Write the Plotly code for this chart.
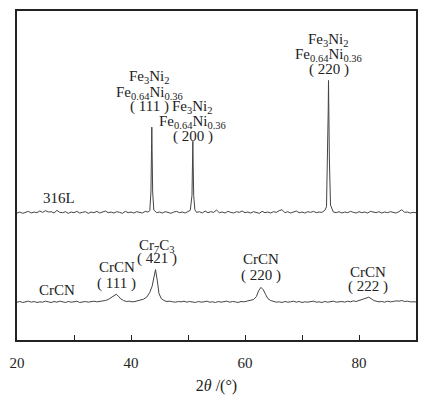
import plotly.graph_objects as go

# ----------------------------
# Data
# ----------------------------

two_theta_316l = [
    20.0, 20.5, 21.0, 21.5, 22.0, 22.5, 23.0, 23.5, 24.0, 24.5,
    25.0, 25.5, 26.0, 26.5, 27.0, 27.5, 28.0, 28.5, 29.0, 29.5,
    30.0, 30.5, 31.0, 31.5, 32.0, 32.5, 33.0, 33.5, 34.0, 34.5,
    35.0, 35.5, 36.0, 36.5, 37.0, 37.5, 38.0, 38.5, 39.0, 39.5,
    40.0, 40.5, 41.0, 41.5, 42.0, 42.5, 43.0, 43.3, 43.5, 43.6,
    43.65, 43.7, 43.8, 44.0, 44.5, 45.0, 45.5, 46.0, 46.5, 47.0,
    47.5, 48.0, 48.5, 49.0, 49.5, 50.0, 50.4, 50.7, 50.8, 50.85,
    50.9, 51.0, 51.2, 51.5, 52.0, 52.5, 53.0, 53.5, 54.0, 54.5,
    55.0, 55.5, 56.0, 56.5, 57.0, 57.5, 58.0, 58.5, 59.0, 59.5,
    60.0, 60.5, 61.0, 61.5, 62.0, 62.5, 63.0, 63.5, 64.0, 64.5,
    65.0, 65.5, 66.0, 66.5, 67.0, 67.5, 68.0, 68.5, 69.0, 69.5,
    70.0, 70.5, 71.0, 71.5, 72.0, 72.5, 73.0, 73.5, 74.0, 74.3,
    74.5, 74.6, 74.65, 74.7, 74.8, 75.0, 75.3, 75.5, 76.0, 76.5,
    77.0, 77.5, 78.0, 78.5, 79.0, 79.5, 80.0, 80.5, 81.0, 81.5,
    82.0, 82.5, 83.0, 83.5, 84.0, 84.5, 85.0, 85.5, 86.0, 86.5,
    87.0, 87.5, 88.0, 88.5, 89.0, 89.5, 90.0,
]
intensity_316l = [
    38.6, 38.9, 38.5, 38.8, 39.1, 38.6, 38.9, 38.7, 39.2, 38.8,
    39.3, 38.9, 39.0, 38.6, 39.4, 38.8, 38.7, 39.0, 38.5, 38.9,
    38.7, 39.1, 38.6, 38.8, 39.0, 38.5, 38.9, 38.7, 39.1, 38.6,
    38.8, 39.2, 38.7, 38.9, 38.6, 39.0, 38.8, 38.5, 39.1, 38.7,
    38.9, 38.6, 39.0, 38.8, 38.6, 39.1, 38.9, 39.3, 45.0, 58.0,
    64.7, 58.0, 45.0, 39.5, 38.7, 38.9, 38.6, 39.0, 38.8, 38.5,
    38.9, 39.1, 38.7, 38.9, 38.6, 39.0, 39.4, 44.0, 54.0, 60.4,
    54.0, 44.0, 39.6, 38.8, 39.0, 38.6, 39.2, 38.7, 39.0, 38.8,
    39.5, 38.7, 38.9, 38.6, 39.1, 38.8, 38.6, 39.0, 38.8, 39.2,
    38.7, 38.9, 38.6, 39.0, 38.8, 38.5, 39.1, 38.7, 38.9, 38.6,
    39.0, 38.8, 39.3, 39.6, 38.7, 39.0, 38.6, 38.9, 39.2, 38.7,
    38.9, 38.6, 39.0, 38.8, 39.1, 38.7, 38.9, 38.8, 39.4, 40.5,
    55.0, 70.0, 78.9, 70.0, 55.0, 41.0, 39.5, 38.9, 38.7, 39.0,
    38.6, 38.9, 38.7, 39.1, 38.8, 38.6, 39.0, 38.7, 38.9, 38.6,
    39.1, 38.8, 38.7, 39.0, 38.6, 38.9, 38.7, 39.0, 38.8, 38.6,
    39.0, 39.6, 38.8, 38.9, 38.6, 38.8, 38.7,
]

two_theta_crcn = [
    20.0, 20.5, 21.0, 21.5, 22.0, 22.5, 23.0, 23.5, 24.0, 24.5,
    25.0, 25.5, 26.0, 26.5, 27.0, 27.5, 28.0, 28.5, 29.0, 29.5,
    30.0, 30.5, 31.0, 31.5, 32.0, 32.5, 33.0, 33.5, 34.0, 34.5,
    35.0, 35.5, 36.0, 36.5, 37.0, 37.4, 37.8, 38.2, 38.7, 39.2,
    39.7, 40.2, 40.7, 41.2, 41.7, 42.2, 42.8, 43.3, 43.7, 44.0,
    44.3, 44.6, 44.9, 45.3, 45.8, 46.3, 46.8, 47.3, 47.8, 48.3,
    48.8, 49.3, 49.8, 50.3, 50.8, 51.3, 51.8, 52.3, 52.8, 53.3,
    53.8, 54.3, 54.8, 55.3, 55.8, 56.3, 56.8, 57.3, 57.8, 58.3,
    58.8, 59.3, 59.8, 60.3, 60.8, 61.5, 62.0, 62.4, 62.8, 63.2,
    63.6, 64.0, 64.5, 65.0, 65.5, 66.0, 66.5, 67.0, 67.5, 68.0,
    68.5, 69.0, 69.5, 70.0, 70.5, 71.0, 71.5, 72.0, 72.5, 73.0,
    73.5, 74.0, 74.5, 75.0, 75.5, 76.0, 76.5, 77.0, 77.5, 78.0,
    78.5, 79.0, 79.5, 80.0, 80.4, 80.8, 81.3, 81.7, 82.1, 82.6,
    83.0, 83.5, 84.0, 84.5, 85.0, 85.5, 86.0, 86.5, 87.0, 87.5,
    88.0, 88.5, 89.0, 89.5, 90.0,
]
intensity_crcn = [
    11.5, 11.7, 11.4, 11.6, 11.8, 11.5, 11.7, 11.4, 11.6, 11.5,
    11.8, 11.6, 11.4, 11.7, 11.5, 11.8, 11.6, 11.4, 11.7, 11.5,
    11.6, 11.8, 11.4, 11.6, 11.7, 11.5, 11.6, 11.8, 11.6, 11.7,
    11.9, 12.0, 12.3, 12.8, 13.4, 13.9, 13.3, 12.5, 12.0, 11.7,
    11.8, 11.6, 11.7, 11.9, 12.0, 12.4, 13.1, 14.5, 16.3, 18.5,
    21.4, 18.2, 14.2, 12.6, 12.0, 11.7, 11.8, 11.6, 11.5, 11.7,
    11.6, 11.8, 11.5, 11.7, 11.6, 11.4, 11.7, 11.5, 11.6, 11.8,
    11.5, 11.6, 11.4, 11.7, 11.5, 11.6, 11.8, 11.5, 11.7, 11.6,
    11.4, 11.7, 11.6, 11.8, 12.0, 12.3, 13.2, 15.0, 16.0, 15.3,
    13.9, 12.6, 12.0, 11.7, 11.5, 11.6, 11.4, 11.7, 11.5, 11.6,
    11.8, 11.5, 11.7, 11.4, 11.6, 11.5, 11.7, 11.8, 11.5, 11.6,
    11.4, 11.7, 11.5, 11.6, 11.8, 11.5, 11.6, 11.7, 11.5, 11.8,
    11.6, 11.9, 11.7, 12.0, 12.1, 12.3, 12.7, 13.0, 12.6, 12.0,
    11.8, 11.6, 11.7, 11.5, 11.8, 11.6, 11.7, 11.9, 11.8, 12.0,
    11.7, 11.8, 11.6, 11.7, 11.6,
]

x_tick_vals = [20, 30, 40, 50, 60, 70, 80, 90]
x_tick_text = ["20", "", "40", "", "60", "", "80", ""]

# peak labels: (x, y, text)
peak_labels = [
    (43.3, 80.0, "Fe<sub>3</sub>Ni<sub>2</sub>"),
    (43.3, 75.2, "Fe<sub>0.64</sub>Ni<sub>0.36</sub>"),
    (43.3, 71.0, "( 111 )"),
    (50.8, 70.7, "Fe<sub>3</sub>Ni<sub>2</sub>"),
    (50.8, 66.2, "Fe<sub>0.64</sub>Ni<sub>0.36</sub>"),
    (50.8, 61.8, "( 200 )"),
    (74.7, 91.2, "Fe<sub>3</sub>Ni<sub>2</sub>"),
    (74.7, 86.6, "Fe<sub>0.64</sub>Ni<sub>0.36</sub>"),
    (74.7, 82.2, "( 220 )"),
    (27.4, 43.2, "316L"),
    (27.0, 15.1, "CrCN"),
    (37.5, 22.1, "CrCN"),
    (37.5, 17.2, "( 111 )"),
    (44.5, 28.7, "Cr<sub>7</sub>C<sub>3</sub>"),
    (44.5, 24.8, "( 421 )"),
    (62.8, 24.5, "CrCN"),
    (62.8, 19.6, "( 220 )"),
    (81.5, 20.8, "CrCN"),
    (81.5, 16.3, "( 222 )"),
]

FONT = "Liberation Serif, Times New Roman, serif"
INK = "#222222"

fig = go.Figure()

fig.add_trace(
    go.Scatter(
        x=two_theta_316l,
        y=intensity_316l,
        mode="lines",
        line=dict(color="#444444", width=1),
        name="316L",
    )
)
fig.add_trace(
    go.Scatter(
        x=two_theta_crcn,
        y=intensity_crcn,
        mode="lines",
        line=dict(color="#444444", width=1),
        name="CrCN",
    )
)

for x, y, text in peak_labels:
    fig.add_annotation(
        x=x,
        y=y,
        text=text,
        showarrow=False,
        font=dict(family=FONT, size=15, color=INK),
    )

# page body adds an 8px margin, so the figure is a bit smaller than the window
fig.update_layout(
    width=433,
    height=395,
    margin=dict(l=9, r=25, t=1, b=63),
    paper_bgcolor="white",
    plot_bgcolor="white",
    showlegend=False,
    font=dict(family=FONT, size=15, color=INK),
    xaxis=dict(
        range=[20, 90],
        tickvals=x_tick_vals,
        ticktext=x_tick_text,
        ticks="inside",
        ticklen=5,
        tickcolor=INK,
        ticklabelstandoff=8,
        showline=True,
        linecolor=INK,
        linewidth=1.5,
        mirror=True,
        showgrid=False,
        zeroline=False,
        title=dict(text="2<i>θ</i> /(°)", standoff=10, font=dict(size=16)),
    ),
    yaxis=dict(
        range=[0, 100],
        showticklabels=False,
        ticks="",
        showline=True,
        linecolor=INK,
        linewidth=1.5,
        mirror=True,
        showgrid=False,
        zeroline=False,
    ),
)

fig.write_html("out.html")
